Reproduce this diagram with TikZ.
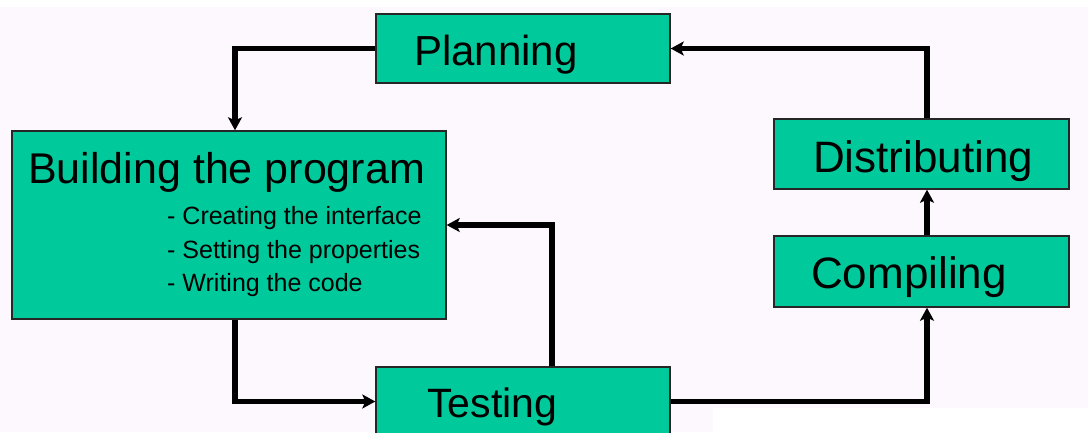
\documentclass[tikz,border=0pt]{standalone}
\usepackage{fontspec}
\setmainfont{Liberation Sans}
\usetikzlibrary{arrows.meta}
\definecolor{pagebg}{RGB}{253,248,253}
\definecolor{stagefill}{RGB}{0,202,156}
\tikzset{
  stage/.style={draw=black!85, line width=1.4pt, fill=stagefill, rectangle,
    inner sep=0pt, minimum width=#1},
  head/.style={anchor=base west, inner sep=0pt, font=\fontsize{43}{50}\selectfont},
  sub/.style={anchor=base west, inner sep=0pt, font=\fontsize{25}{30}\selectfont},
  flow/.style={line width=5.5pt, line join=miter, line cap=butt,
    -{Stealth[length=13pt,width=14pt,inset=3pt]}},
}
\begin{document}
\begin{tikzpicture}[x=1pt,y=-1pt]
  % page
  \useasboundingbox (0,0) rectangle (1088,432);
  \clip (0,0) rectangle (1088,432);
  \fill[pagebg] (0,0) rectangle (1088,432);
  \fill[white] (0,0) rectangle (1088,7);
  \fill[white] (713,408) rectangle (1088,432);

  % stages
  \node[stage=294pt, minimum height=69pt] (plan) at (523,48.5) {};
  \node[stage=434pt, minimum height=188pt] (build) at (229,225) {};
  \node[stage=294pt, minimum height=69pt] (test) at (523,401.5) {};
  \node[stage=295pt, minimum height=70pt] (dist) at (921.5,154) {};
  \node[stage=295pt, minimum height=71pt] (comp) at (921.5,271.5) {};

  % labels
  \node[head, font=\fontsize{42}{50}\selectfont] (tplan) at (414,65) {Planning};
  \node[head] (tbuild) at (28,183) {Building the program};
  \node[sub] (s1) at (167,224) {- Creating the interface};
  \node[sub] (s2) at (167,258) {- Setting the properties};
  \node[sub] (s3) at (167,291) {- Writing the code};
  \node[head, font=\fontsize{41}{50}\selectfont] (ttest) at (427,417) {Testing};
  \node[head, font=\fontsize{44}{50}\selectfont] (tdist) at (813,172) {Distributing};
  \node[head, font=\fontsize{44}{50}\selectfont] (tcomp) at (811,288) {Compiling};

  % routing columns
  \coordinate (xl) at (235,0);
  \coordinate (xr) at (927,0);
  \coordinate (tb) at (552,225);

  % connectors
  \draw[flow] (plan.west) -- (plan.west -| xl) -- (build.north -| xl);
  \draw[flow] (build.south -| xl) -- (test.west -| xl) -- (test.west);
  \draw[flow] (test.north -| tb) -- (tb) -- (build.east |- tb);
  \draw[flow] (test.east) -- (test.east -| xr) -- (comp.south -| xr);
  \draw[flow] (comp.north -| xr) -- (dist.south -| xr);
  \draw[flow] (dist.north -| xr) -- (plan.east -| xr) -- (plan.east);
\end{tikzpicture}
\end{document}
